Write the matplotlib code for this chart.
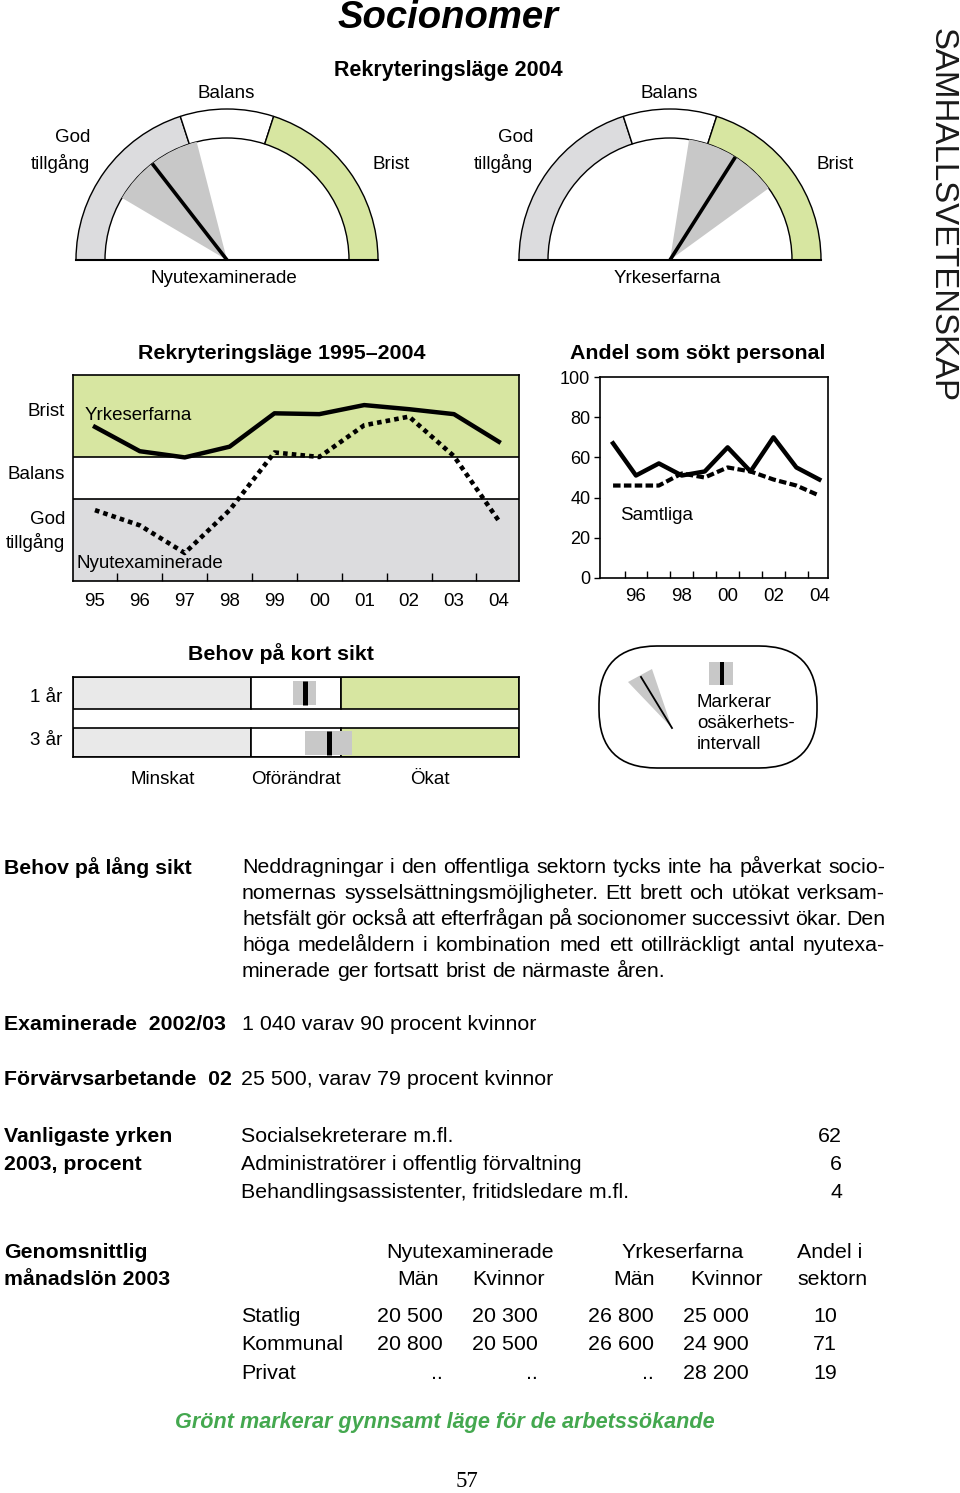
import matplotlib
matplotlib.use("Agg")
import matplotlib.pyplot as plt
from matplotlib.patches import Wedge, FancyBboxPatch, Polygon, Rectangle
import numpy as np

plt.rcParams['font.family'] = ['Liberation Sans', 'DejaVu Sans']

W, H = 960, 1493

# ---- data ----
years = list(range(1995, 2005))
year_labels = ['95', '96', '97', '98', '99', '00', '01', '02', '03', '04']

# Rekryteringsläge 2004, scale 0 (god tillgång) .. 100 (brist)
gauge_zones = [0, 40, 60, 100]
gauge_groups = ['Nyutexaminerade', 'Yrkeserfarna']
gauge_values = [29, 68]
gauge_low = [17, 55]
gauge_high = [42, 80]

# Rekryteringsläge 1995-2004, scale 0..5 (0-2 god tillgång, 2-3 balans, 3-5 brist)
rekr_levels = [0, 2, 3, 5]
rekr_yrkeserfarna = [3.74, 3.15, 3.00, 3.26, 4.07, 4.05, 4.27, 4.17, 4.05, 3.38]
rekr_nyutexaminerade = [1.72, 1.35, 0.68, 1.72, 3.12, 3.01, 3.78, 3.99, 3.03, 1.46]

# Andel som sökt personal, procent
andel_socionomer = [67, 51, 57, 51, 53, 65, 53, 70, 55, 49]
andel_samtliga = [46, 46, 46, 52, 50, 55, 53, 49, 46, 41]
andel_ticks = [0, 20, 40, 60, 80, 100]
andel_years = [1996, 1998, 2000, 2002, 2004]
andel_year_labels = ['96', '98', '00', '02', '04']

# Behov på kort sikt, scale 0..5 (0-2 minskat, 2-3 oförändrat, 3-5 ökat)
behov_rows = ['1 år', '3 år']
behov_zones = [0, 2, 3, 5]
behov_zone_names = ['Minskat', 'Oförändrat', 'Ökat']
behov_value = [2.60, 2.87]
behov_low = [2.47, 2.60]
behov_high = [2.72, 3.13]

# text blocks
lang_sikt = [
    "Neddragningar i den offentliga sektorn tycks inte ha påverkat socio-",
    "nomernas sysselsättningsmöjligheter.  Ett brett och utökat verksam-",
    "hetsfält gör också att efterfrågan på socionomer successivt ökar. Den",
    "höga medelåldern i kombination med ett otillräckligt antal nyutexa-",
    "minerade ger fortsatt brist de närmaste åren.",
]
yrken = ['Socialsekreterare m.fl.', 'Administratörer i offentlig förvaltning',
         'Behandlingsassistenter, fritidsledare m.fl.']
yrken_procent = ['62', '6', '4']
lon_sektor = ['Statlig', 'Kommunal', 'Privat']
lon_nyex_man = ['20 500', '20 800', '..']
lon_nyex_kv = ['20 300', '20 500', '..']
lon_yrk_man = ['26 800', '26 600', '..']
lon_yrk_kv = ['25 000', '24 900', '28 200']
lon_andel = ['10', '71', '19']

GREEN = '#d7e6a1'
GRAY = '#dcdcde'
LGRAY = '#e9e9e9'
MGRAY = '#c8c8c8'

fig = plt.figure(figsize=(W / 100, H / 100), dpi=100)


def px_axes(x0, y0, x1, y1):
    return fig.add_axes([x0 / W, 1 - y1 / H, (x1 - x0) / W, (y1 - y0) / H])


# ---- gauges ----
R_OUT, R_IN = 151, 122


def ang(v):
    return 180 - 180 * v / 100


def draw_gauge(cx, value, low, high):
    ax = px_axes(cx - 160, 100, cx + 160, 262)
    ax.set_xlim(-160, 160)
    ax.set_ylim(-2, 160)
    ax.axis('off')
    for lo, hi, c in zip(gauge_zones[:-1], gauge_zones[1:], [GRAY, 'white', GREEN]):
        ax.add_patch(Wedge((0, 0), R_OUT, ang(hi), ang(lo), width=R_OUT - R_IN,
                           fc=c, ec='black', lw=1))
    ax.add_patch(Wedge((0, 0), R_IN, ang(high), ang(low), fc=MGRAY, ec='none'))
    a = np.radians(ang(value))
    ax.plot([0, R_IN * np.cos(a)], [0, R_IN * np.sin(a)], color='black', lw=2.6,
            solid_capstyle='butt')
    ax.plot([-R_OUT, R_OUT], [0, 0], color='black', lw=1.5)


for cx, v, lo, hi in zip([227, 670], gauge_values, gauge_low, gauge_high):
    draw_gauge(cx, v, lo, hi)

# ---- Rekryteringsläge 1995-2004 ----
ax1 = px_axes(73, 375, 519, 581)
ax1.set_xlim(1994.51, 2004.45)
ax1.set_ylim(0, 5)
for lo, hi, c in zip(rekr_levels[:-1], rekr_levels[1:], [GRAY, 'white', GREEN]):
    ax1.axhspan(lo, hi, color=c, zorder=0, lw=0)
for lv in rekr_levels[1:-1]:
    ax1.axhline(lv, color='black', lw=1.2, zorder=1)
ax1.plot(years, rekr_yrkeserfarna, color='black', lw=3.2, zorder=3)
ax1.plot(years, rekr_nyutexaminerade, color='black', lw=3.3, zorder=3,
         linestyle=(0, (1.0, 0.9)), dash_capstyle='butt')
ax1.set_yticks([])
ax1.set_xticks(years)
ax1.set_xticklabels(year_labels)
ax1.set_xticks(np.arange(1995.5, 2004, 1), minor=True)
ax1.tick_params(axis='x', which='major', length=0, pad=9, labelsize=13.5)
ax1.tick_params(axis='x', which='minor', direction='in', length=6, width=1)
for s in ax1.spines.values():
    s.set_linewidth(1.2)

# ---- Andel som sökt personal ----
ax2 = px_axes(600, 377, 828, 578)
ax2.set_xlim(1994.43, 2004.38)
ax2.set_ylim(0, 100)
ax2.plot(years, andel_socionomer, color='black', lw=3.2)
ax2.plot(years, andel_samtliga, color='black', lw=3.0,
         linestyle=(0, (1.8, 0.8)), dash_capstyle='butt')
ax2.set_yticks(andel_ticks)
ax2.tick_params(axis='y', direction='out', length=4, width=1, pad=3, labelsize=13)
ax2.set_xticks(andel_years)
ax2.set_xticklabels(andel_year_labels)
ax2.set_xticks(np.arange(1995.5, 2004, 1), minor=True)
ax2.tick_params(axis='x', which='major', length=0, pad=7, labelsize=13.5)
ax2.tick_params(axis='x', which='minor', direction='in', length=5, width=1)
for s in ax2.spines.values():
    s.set_linewidth(1.2)

# ---- Behov på kort sikt ----
ax3 = px_axes(73, 677, 519, 757)
ax3.set_xlim(0, 5)
ax3.set_ylim(80, 0)
row_y = [16, 65.5]
row_h = [32, 29]
for ry, rh, v, lo, hi in zip(row_y, row_h, behov_value, behov_low, behov_high):
    for zlo, zhi, c in zip(behov_zones[:-1], behov_zones[1:], [LGRAY, 'white', GREEN]):
        ax3.barh(ry, zhi - zlo, left=zlo, height=rh, color=c, edgecolor='black', lw=1.2)
    ax3.barh(ry, hi - lo, left=lo, height=24, color=MGRAY, lw=0)
    ax3.vlines(v, ry - 12, ry + 12, color='black', lw=3.6)
ax3.set_xticks([])
ax3.set_yticks([])
for s in ax3.spines.values():
    s.set_linewidth(1.2)
for lo, hi, name in zip(behov_zones[:-1], behov_zones[1:], behov_zone_names):
    ax3.text((lo + hi) / 2, 102, name, ha='center', va='center', fontsize=13.5,
             clip_on=False)

# ---- overlay for text ----
bg = fig.add_axes([0, 0, 1, 1])
bg.set_xlim(0, W)
bg.set_ylim(H, 0)
bg.axis('off')
bg.set_zorder(10)


def t(x, y, s, size=13.5, ha='left', **kw):
    bg.text(x, y + 1.5, s, fontsize=size, ha=ha, va='center', **kw)


t(448, 17, 'Socionomer', 27.5, 'center', fontweight='bold', fontstyle='italic')
t(448, 69, 'Rekryteringsläge 2004', 15.5, 'center', fontweight='bold')

# gauge labels
for cx, name in zip([227, 670], gauge_groups):
    t(cx - 1, 92, 'Balans', ha='center')
    t(cx - 137, 136, 'God', ha='right')
    t(cx - 137, 162, 'tillgång', ha='right')
    t(cx + 146, 163, 'Brist')
    t(cx - 3, 277, name, ha='center')

t(282, 352, 'Rekryteringsläge 1995–2004', 15.4, 'center', fontweight='bold')
t(698, 352, 'Andel som sökt personal', 15.4, 'center', fontweight='bold')
t(65, 410, 'Brist', ha='right')
t(65, 473, 'Balans', ha='right')
t(65, 518, 'God', ha='right')
t(65, 541, 'tillgång', ha='right')
t(85, 414, 'Yrkeserfarna')
t(76, 562, 'Nyutexaminerade')
t(620, 514, 'Samtliga')

t(281, 652, 'Behov på kort sikt', 15.4, 'center', fontweight='bold')
for y, name in zip([696, 739], behov_rows):
    t(62, y, name, ha='right')

# legend box
bg.add_patch(FancyBboxPatch((599, 646), 218, 122, boxstyle='round,pad=0,rounding_size=58',
                            fc='white', ec='black', lw=1.2))
bg.add_patch(Polygon([(672, 728), (628, 682), (652, 669)], closed=True, fc=MGRAY, ec='none'))
bg.plot([641, 672], [677, 728], color='black', lw=1.3)
bg.add_patch(Rectangle((709, 662), 24, 23, fc=MGRAY, ec='none'))
bg.add_patch(Rectangle((719.5, 662), 4.5, 23, fc='black', ec='none'))
t(697, 701, 'Markerar')
t(697, 722, 'osäkerhets-')
t(697, 743, 'intervall')

t(942, 214, 'SAMHÄLLSVETENSKAP', 23.8, 'center', rotation=270, color='#1a1a1a')

# ---- lower text section ----
BOLD = 15.3
BODY = 15.4
t(4, 866, 'Behov på lång sikt', BOLD, fontweight='bold')

renderer = fig.canvas.get_renderer()
X0, X1 = 242, 885
base_off = 0.26 * BODY * 100 / 72 + 1.5
for i, line in enumerate(lang_sikt):
    y = 866 + 26 * i + base_off
    words = line.split()
    arts = [bg.text(X0, y, w, fontsize=BODY, ha='left', va='baseline') for w in words]
    widths = [a.get_window_extent(renderer).width for a in arts]
    if i == len(lang_sikt) - 1:
        space = bg.text(0, 0, 'a a', fontsize=BODY).get_window_extent(renderer).width - \
            2 * bg.text(0, 0, 'a', fontsize=BODY).get_window_extent(renderer).width
        for a in bg.texts[-2:]:
            a.remove()
        gap = space
    else:
        gap = (X1 - X0 - sum(widths)) / (len(words) - 1)
    x = X0
    for a, w in zip(arts, widths):
        a.set_x(x)
        x += w + gap

t(4, 1023, 'Examinerade  2002/03', BOLD, fontweight='bold')
t(242, 1023, '1 040 varav 90 procent kvinnor', BODY)
t(4, 1078, 'Förvärvsarbetande  02', BOLD, fontweight='bold')
t(241, 1078, '25 500, varav 79 procent kvinnor', BODY)

t(4, 1135, 'Vanligaste yrken', BOLD, fontweight='bold')
t(4, 1163, '2003, procent', BOLD, fontweight='bold')
for i, (name, p) in enumerate(zip(yrken, yrken_procent)):
    y = 1135 + 28 * i
    t(241, y, name, BODY)
    t(842, y, p, BODY, 'right')

t(4, 1251, 'Genomsnittlig', BOLD, fontweight='bold')
t(4, 1278, 'månadslön 2003', BOLD, fontweight='bold')
t(470, 1251, 'Nyutexaminerade', BODY, 'center')
t(683, 1251, 'Yrkeserfarna', BODY, 'center')
t(797, 1251, 'Andel i', BODY)
t(418, 1278, 'Män', BODY, 'center')
t(508, 1278, 'Kvinnor', BODY, 'center')
t(634, 1278, 'Män', BODY, 'center')
t(726, 1278, 'Kvinnor', BODY, 'center')
t(797, 1278, 'sektorn', BODY)

col_right = [443, 538, 654, 749, 837]
for i, sektor in enumerate(lon_sektor):
    y = 1315 + 28.5 * i
    t(241, y, sektor, BODY)
    vals = [lon_nyex_man[i], lon_nyex_kv[i], lon_yrk_man[i], lon_yrk_kv[i], lon_andel[i]]
    for xr, v in zip(col_right, vals):
        t(xr, y, v, BODY, 'right')

t(445, 1421, 'Grönt markerar gynnsamt läge för de arbetssökande', 15.6, 'center',
  fontweight='bold', fontstyle='italic', color='#44a84f')
t(467, 1480, '57', 16.5, 'center', family=['Liberation Serif', 'DejaVu Serif'])

fig.savefig('out.png', dpi=100)
